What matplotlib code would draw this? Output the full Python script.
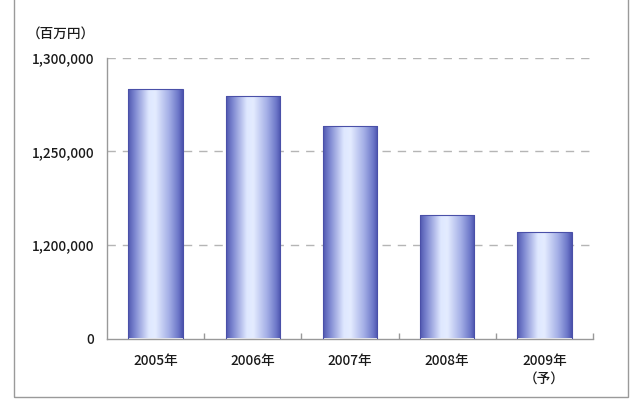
import numpy as np
import matplotlib
matplotlib.use("Agg")
import matplotlib.pyplot as plt
from matplotlib.patches import Rectangle
from matplotlib.colors import LinearSegmentedColormap

plt.rcParams['font.family'] = ['Noto Sans CJK JP', 'DejaVu Sans']

categories = ["2005年", "2006年", "2007年", "2008年", "2009年\n（予）"]
values = [1283000, 1279500, 1263500, 1216000, 1207000]
tick_values = [1150000, 1200000, 1250000, 1300000]
tick_labels = ["0", "1,200,000", "1,250,000", "1,300,000"]
unit_label = "（百万円）"

base = 1150000
fs = 9.8
tc = "#1a1a1a"

fig = plt.figure(figsize=(6.4, 4.0), dpi=100)
# outer frame
fig.patches.append(Rectangle((14/640, 3/400), (628-14)/640, 1.2, transform=fig.transFigure,
                             fill=False, edgecolor="#9a9a9a", linewidth=1.0))

ax = fig.add_axes([107/640, 1-338.5/400, (593-107)/640, (338.5-57.5)/400])

cmap = LinearSegmentedColormap.from_list("bar", [
    (0.0, "#4f57b0"), (0.12, "#7c86d0"), (0.38, "#dfe8ff"), (0.5, "#e4ecff"),
    (0.75, "#a3aee6"), (0.92, "#6c76c8"), (1.0, "#4a52ad")])
grad = np.linspace(0, 1, 256).reshape(1, -1)

width = 0.56
x = np.arange(len(categories))
bars = ax.bar(x, np.array(values) - base, bottom=base, width=width,
              color="none", edgecolor="#4a50a8", linewidth=0.8, zorder=3)
for b in bars:
    bx, by = b.get_x(), b.get_y()
    bw, bh = b.get_width(), b.get_height()
    im = ax.imshow(grad, cmap=cmap, aspect="auto", extent=[bx, bx+bw, by, by+bh],
                   zorder=2, interpolation="bicubic")
    im.set_clip_path(b)
ax.set_xlim(-0.5, len(categories)-0.5)
ax.set_ylim(base, 1300000)

# gridlines
for tv in tick_values[1:]:
    ax.axhline(tv, color="#b5b5b5", linestyle=(0, (6, 5)), linewidth=1.0, zorder=1)

ax.set_yticks(tick_values)
ax.set_yticklabels(tick_labels, fontsize=fs, color=tc, fontweight=500)
ax.tick_params(axis="y", length=0, pad=9)

ax.set_xticks(x)
ax.set_xticklabels(categories, fontsize=fs, color=tc, linespacing=1.45, fontweight=500)
ax.tick_params(axis="x", which="major", length=0, pad=11)
ax.set_xticks(np.arange(0.5, len(categories), 1.0), minor=True)
ax.tick_params(axis="x", which="minor", direction="in", length=4, color="#999999", width=1)

for s in ["top", "right"]:
    ax.spines[s].set_visible(False)
for s in ["left", "bottom"]:
    ax.spines[s].set_color("#999999")
    ax.spines[s].set_linewidth(1.0)

fig.text(27/640, 1-35/400, unit_label, fontsize=fs, color=tc, va="center", ha="left",
         fontweight=500)

fig.savefig("out.png", dpi=100)
